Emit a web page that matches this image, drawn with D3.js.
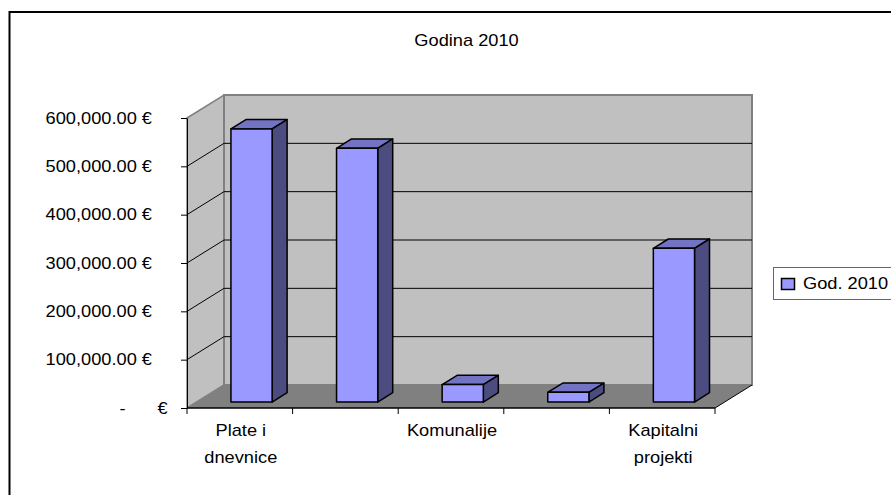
<!DOCTYPE html>
<html>
<head>
<meta charset="utf-8">
<script src="https://cdn.jsdelivr.net/npm/d3@7"></script>
<style>
  body { margin: 0; background: #fff; }
  svg text { font-family: "Liberation Sans", Arial, sans-serif; font-size: 16px; fill: #000; }
</style>
</head>
<body>
<svg id="chart" width="891" height="495"></svg>
<script>
// data
var categories = ["Plate i dnevnice", "Materijalni troškovi", "Komunalije", "Usluge", "Kapitalni projekti"];
var tickLabels = [["Plate i", "dnevnice"], [], ["Komunalije"], [], ["Kapitalni", "projekti"]];
var values2010 = [565000, 525000, 36000, 20000, 318000];
var yTicks = [0, 100000, 200000, 300000, 400000, 500000, 600000];
var seriesName = "God. 2010";
var title = "Godina 2010";

var svg = d3.select("#chart");
var SX = 1.14; // text in the picture is a bit wider than tall

// stretch text horizontally around its anchor
function stretch(sel) {
  sel.each(function() {
    var t = d3.select(this);
    var x = +t.attr("x") || 0, y = +t.attr("y") || 0;
    t.attr("x", 0).attr("y", 0)
      .attr("transform", "translate(" + x + "," + y + ") scale(" + SX + ",1)");
  });
}

// outer frame
svg.append("rect")
    .attr("x", 9.5).attr("y", 12)
    .attr("width", 900).attr("height", 500)
    .attr("fill", "#fff").attr("stroke", "#000").attr("stroke-width", 2);

var x = d3.scaleBand().domain(categories).range([187, 715]).padding(0);
var y = d3.scaleLinear().domain([0, 600000]).range([408, 118]);

var DX = 37, DY = -23;      // depth of the 3d box
var f0 = 0.26, f1 = 0.665;  // bar front / back inside depth
var x0 = x.range()[0], x1 = x.range()[1];
var yTop = y(600000), yBase = y(0);

var pts = function(a) { return a.map(function(p) { return p.join(","); }).join(" "); };

// side wall
svg.append("polygon")
    .attr("points", pts([[x0, yTop], [x0 + DX, yTop + DY], [x0 + DX, yBase + DY], [x0, yBase]]))
    .attr("fill", "#c0c0c0").attr("stroke", "#808080").attr("stroke-width", 1.5);
// back wall
svg.append("rect")
    .attr("x", x0 + DX).attr("y", yTop + DY)
    .attr("width", x1 - x0).attr("height", yBase - yTop)
    .attr("fill", "#c0c0c0").attr("stroke", "#808080").attr("stroke-width", 2);
// floor
svg.append("polygon")
    .attr("points", pts([[x0, yBase], [x0 + DX, yBase + DY], [x1 + DX, yBase + DY], [x1, yBase]]))
    .attr("fill", "#808080").attr("stroke", "none");

// gridlines on walls
var grid = yTicks.filter(function(d) { return d > 0 && d < 600000; });
svg.append("g").selectAll("path").data(grid).join("path")
    .attr("d", function(d) {
      return "M" + x0 + "," + y(d) + "L" + (x0 + DX) + "," + (y(d) + DY) + "L" + (x1 + DX) + "," + (y(d) + DY);
    })
    .attr("fill", "none").attr("stroke", "#000").attr("stroke-width", 1);

// bars
var bars = svg.append("g");
categories.forEach(function(c, i) {
  var v = values2010[i];
  var bw = x.bandwidth() * 0.39;
  var bx = x(c) + x.bandwidth() * 0.325 + f0 * DX;
  var by = y(v) + f0 * DY;
  var bb = y(0) + f0 * DY;
  var ddx = (f1 - f0) * DX, ddy = (f1 - f0) * DY;
  var g = bars.append("g").attr("stroke", "#000").attr("stroke-width", 1.5).attr("stroke-linejoin", "round");
  g.append("polygon")
      .attr("points", pts([[bx, by], [bx + bw, by], [bx + bw + ddx, by + ddy], [bx + ddx, by + ddy]]))
      .attr("fill", "#7373c4");
  g.append("polygon")
      .attr("points", pts([[bx + bw, by], [bx + bw + ddx, by + ddy], [bx + bw + ddx, bb + ddy], [bx + bw, bb]]))
      .attr("fill", "#4c4c80");
  g.append("rect")
      .attr("x", bx).attr("y", by).attr("width", bw).attr("height", bb - by)
      .attr("fill", "#9999ff");
});

// y axis
var fmt = d3.format(",.2f");
var yAxis = svg.append("g")
    .attr("transform", "translate(" + x0 + ",0)")
    .call(d3.axisLeft(y).tickValues(yTicks).tickSize(6).tickSizeOuter(0).tickPadding(29)
      .tickFormat(function(d) { return fmt(d) + " €"; }));
yAxis.select(".domain").attr("stroke", "#000");
yAxis.selectAll("text").attr("font-size", null).attr("font-family", null);
yAxis.selectAll(".tick").filter(function(d) { return d === 0; }).each(function() {
  var t = d3.select(this);
  t.select("text").remove();
  t.append("text").attr("x", 122.5 - x0).attr("dy", "0.32em").attr("text-anchor", "middle").text("-");
  t.append("text").attr("x", 157.5 - x0).attr("dy", "0.32em").attr("text-anchor", "start").text("€");
});
yAxis.attr("font-size", null).attr("font-family", null);
stretch(yAxis.selectAll("text"));

// x axis
var xa = svg.append("g");
xa.append("line").attr("x1", x0).attr("x2", x1).attr("y1", yBase).attr("y2", yBase)
    .attr("stroke", "#000").attr("stroke-width", 1.5);
xa.append("line").attr("x1", x1).attr("x2", x1 + DX).attr("y1", yBase).attr("y2", yBase + DY)
    .attr("stroke", "#000").attr("stroke-width", 1);
var bounds = categories.map(function(c) { return x(c); }).concat([x1]);
xa.selectAll("line.tick").data(bounds).join("line").attr("class", "tick")
    .attr("x1", function(d) { return d; }).attr("x2", function(d) { return d; })
    .attr("y1", yBase).attr("y2", yBase + 6)
    .attr("stroke", "#000");
categories.forEach(function(c, i) {
  tickLabels[i].forEach(function(line, j) {
    xa.append("text")
        .attr("x", x(c) + x.bandwidth() / 2 + 1)
        .attr("y", 436 + j * 27)
        .attr("text-anchor", "middle")
        .text(line);
  });
});
stretch(xa.selectAll("text"));

// title
stretch(svg.append("text")
    .attr("x", 466.5).attr("y", 46)
    .attr("text-anchor", "middle")
    .text(title));

// legend
var lg = svg.append("g");
lg.append("rect").attr("x", 773.5).attr("y", 267.5).attr("width", 130).attr("height", 32)
    .attr("fill", "#fff").attr("stroke", "#666").attr("stroke-width", 1);
lg.append("rect").attr("x", 781.5).attr("y", 278.5).attr("width", 13).attr("height", 11)
    .attr("fill", "#9999ff").attr("stroke", "#000").attr("stroke-width", 1.5);
stretch(lg.append("text").attr("x", 803).attr("y", 289).text(seriesName));
</script>
</body>
</html>
